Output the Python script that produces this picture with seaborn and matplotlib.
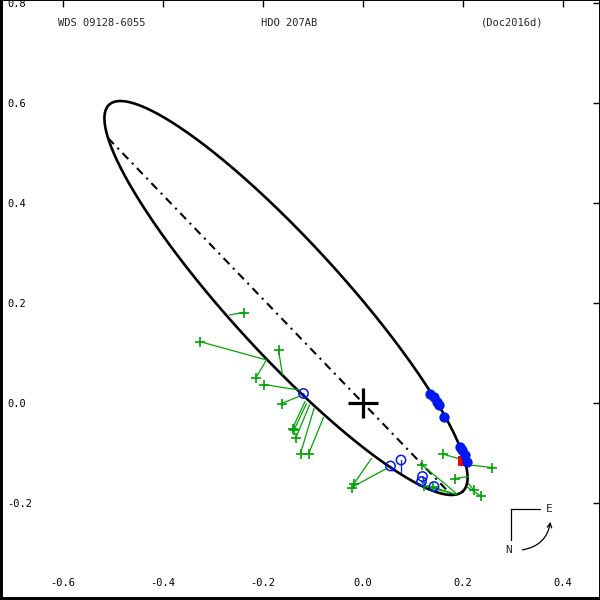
import numpy as np
import pandas as pd
import matplotlib
matplotlib.use("Agg")
import matplotlib.pyplot as plt
import seaborn as sns
from matplotlib.patches import FancyArrowPatch
from matplotlib.ticker import FormatStrFormatter

# ---------------- data (arcsec) ----------------
orbit_center = [-0.154, 0.210]
orbit_semi_axes = [0.524, 0.112]
orbit_angle_deg = -47.55
node_angle_deg = 133.9

# micrometer / visual measurements (observed and computed positions)
green_obs_x = [-0.239, -0.327, -0.169, -0.214, -0.198, -0.163, -0.141, -0.138, -0.134, -0.125, -0.109,
               -0.018, -0.023, 0.117, 0.159, 0.257, 0.184, 0.221, 0.235, 0.121, 0.140]
green_obs_y = [0.181, 0.123, 0.106, 0.051, 0.037, -0.001, -0.051, -0.054, -0.069, -0.101, -0.102,
               -0.161, -0.169, -0.123, -0.102, -0.129, -0.151, -0.174, -0.186, -0.166, -0.168]
green_calc_x = [-0.267, -0.193, -0.161, -0.193, -0.129, -0.126, -0.116, -0.113, -0.107, -0.098, -0.079,
                0.017, 0.047, 0.188, 0.201, 0.214, 0.211, 0.211, 0.207, 0.180, 0.186]
green_calc_y = [0.176, 0.086, 0.056, 0.086, 0.026, 0.014, 0.003, -0.001, -0.004, -0.011, -0.029,
                -0.111, -0.131, -0.182, -0.114, -0.124, -0.147, -0.161, -0.167, -0.181, -0.183]

# other interferometric measurements (open circles)
open_obs_x = [-0.119, 0.055, 0.076, 0.119, 0.117, 0.142]
open_obs_y = [0.019, -0.126, -0.114, -0.147, -0.157, -0.167]
open_calc_x = [-0.114, 0.060, 0.076, 0.124, 0.120, 0.146]
open_calc_y = [0.010, -0.136, -0.138, -0.162, -0.162, -0.172]

# speckle measurements (filled circles)
speckle_x = [0.134, 0.141, 0.147, 0.151, 0.161, 0.194, 0.197, 0.204, 0.207]
speckle_y = [0.019, 0.013, 0.003, -0.004, -0.027, -0.087, -0.094, -0.104, -0.117]

# latest measurement (red square)
last_x = [0.200]
last_y = [-0.115]

x_ticks = [-0.6, -0.4, -0.2, 0.0, 0.2, 0.4]
y_ticks = [-0.2, 0.0, 0.2, 0.4, 0.6, 0.8]
title_left = "WDS 09128-6055"
title_mid = "HDO 207AB"
title_right = "(Doc2016d)"

# ---------------- style ----------------
sns.set_style("white")
plt.rcParams["font.family"] = ["DejaVu Sans Mono"]
plt.rcParams["axes.unicode_minus"] = False

GREEN = "#00a400"
BLUE = "#0018f0"

fig = plt.figure(figsize=(6, 6), dpi=100)
ax = fig.add_axes([0, 0, 1, 1])

# ---------------- orbit ellipse ----------------
cx, cy = orbit_center
a, b = orbit_semi_axes
th = np.deg2rad(orbit_angle_deg)
t = np.linspace(0, 2 * np.pi, 721)
ex = cx + a * np.cos(t) * np.cos(th) - b * np.sin(t) * np.sin(th)
ey = cy + a * np.cos(t) * np.sin(th) + b * np.sin(t) * np.cos(th)
sns.lineplot(x=ex, y=ey, sort=False, estimator=None, color="black", lw=1.9, ax=ax)

# ---------------- line of nodes ----------------
ph = np.deg2rad(node_angle_deg)
d = np.array([np.cos(ph), np.sin(ph)])
u = np.array([np.cos(th), np.sin(th)])
v = np.array([-np.sin(th), np.cos(th)])
c = np.array([cx, cy])
du, dv, cu, cv = d @ u, d @ v, c @ u, c @ v
A = du ** 2 / a ** 2 + dv ** 2 / b ** 2
B = -2 * (du * cu / a ** 2 + dv * cv / b ** 2)
C = cu ** 2 / a ** 2 + cv ** 2 / b ** 2 - 1
roots = np.roots([A, B, C]).real
nx = [r * d[0] for r in roots]
ny = [r * d[1] for r in roots]
ax.plot(nx, ny, color="black", lw=1.5, linestyle=(0, (4, 2.5, 1, 2.5)))

# ---------------- residual lines ----------------
for ox, oy, qx, qy in zip(green_obs_x, green_obs_y, green_calc_x, green_calc_y):
    ax.plot([ox, qx], [oy, qy], color=GREEN, lw=0.9)
for ox, oy, qx, qy in zip(open_obs_x, open_obs_y, open_calc_x, open_calc_y):
    ax.plot([ox, qx], [oy, qy], color=BLUE, lw=0.9)

# ---------------- markers ----------------
sns.scatterplot(x=green_obs_x, y=green_obs_y, marker="+", s=60, color=GREEN,
                linewidth=1.2, ax=ax, zorder=4)
sns.scatterplot(x=open_obs_x, y=open_obs_y, marker="o", s=45, facecolor="none",
                edgecolor=BLUE, linewidth=1.1, ax=ax, zorder=4)
sns.scatterplot(x=last_x, y=last_y, marker="s", s=55, color="#ff0000",
                linewidth=0, ax=ax, zorder=5)
sns.scatterplot(x=speckle_x, y=speckle_y, marker="o", s=55, color=BLUE,
                linewidth=0, ax=ax, zorder=6)

# primary star
ax.plot([0], [0], marker="+", markersize=22, mew=2.3, color="black", zorder=7)

# ---------------- axes ----------------
ax.set_xlim(-0.726, 0.474)
ax.set_ylim(-0.394, 0.806)
ax.set_xticks(x_ticks)
ax.set_yticks(y_ticks)
ax.xaxis.set_major_formatter(FormatStrFormatter("%.1f"))
ax.yaxis.set_major_formatter(FormatStrFormatter("%.1f"))
ax.tick_params(axis="both", direction="in", top=True, right=True, length=5,
               width=1, labelsize=7.5, colors="black")
ax.tick_params(axis="y", pad=-5.5)
ax.tick_params(axis="x", pad=-12)
for lab in ax.get_yticklabels():
    lab.set_horizontalalignment("left")
for lab in ax.get_xticklabels():
    lab.set_verticalalignment("center")
ax.set_xlabel("")
ax.set_ylabel("")
for side in ["left", "bottom"]:
    ax.spines[side].set_linewidth(4.3)
for side in ["top", "right"]:
    ax.spines[side].set_linewidth(1.4)
for sp in ax.spines.values():
    sp.set_color("black")
    sp.set_visible(True)

# ---------------- header ----------------
ax.text(0.170, 0.962, title_left, transform=ax.transAxes, ha="center", va="center", fontsize=7.5)
ax.text(0.482, 0.962, title_mid, transform=ax.transAxes, ha="center", va="center", fontsize=7.5)
ax.text(0.853, 0.962, title_right, transform=ax.transAxes, ha="center", va="center", fontsize=7.5)

# ---------------- compass ----------------
ax.plot([0.851, 0.900], [0.151, 0.151], color="black", lw=0.9, transform=ax.transAxes)
ax.plot([0.851, 0.851], [0.151, 0.100], color="black", lw=0.9, transform=ax.transAxes)
ax.text(0.916, 0.152, "E", transform=ax.transAxes, ha="center", va="center", fontsize=8)
ax.text(0.847, 0.083, "N", transform=ax.transAxes, ha="center", va="center", fontsize=8)
arr = FancyArrowPatch((0.866, 0.083), (0.918, 0.135), transform=ax.transAxes,
                      connectionstyle="arc3,rad=0.4", arrowstyle="->", mutation_scale=8,
                      lw=0.9, color="black")
ax.add_patch(arr)

fig.savefig("out.png", dpi=100)
